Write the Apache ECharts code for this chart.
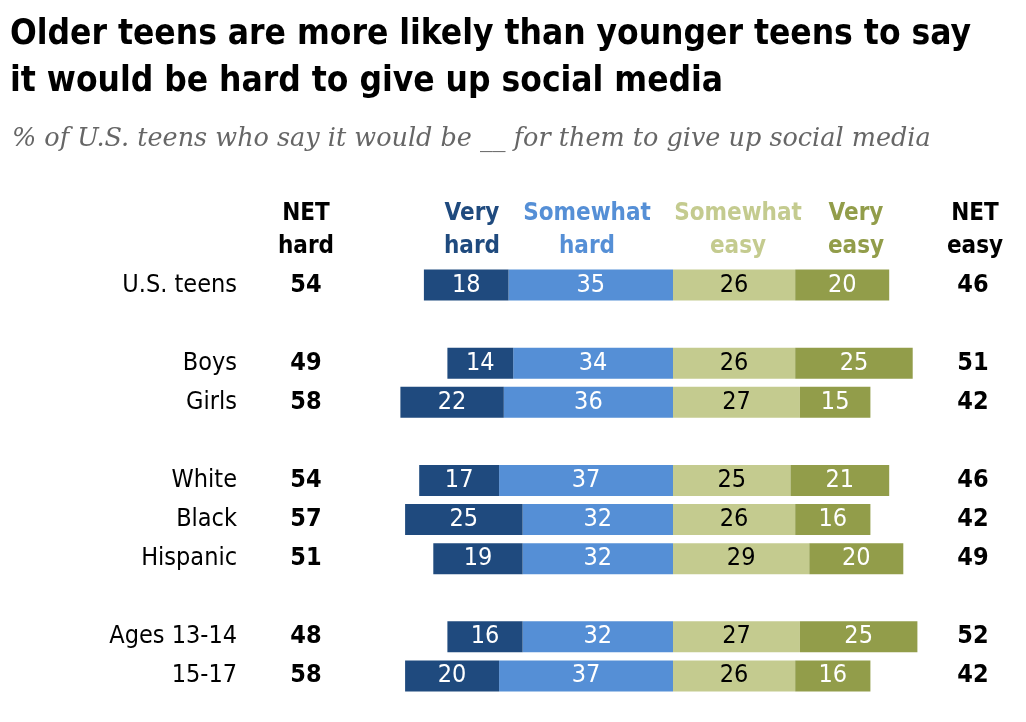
<!DOCTYPE html>
<html lang="en">
<head>
    <meta charset="UTF-8">
    <title>Teens and giving up social media</title>
    <script src="https://cdn.jsdelivr.net/npm/echarts@6.0.0/dist/echarts.min.js"></script>
    <style>
        html, body { margin: 0; padding: 0; background: #fff; }
        #chart { width: 1026px; height: 722px; }
    </style>
</head>
<body>
    <div id="chart"></div>
    <script>
        // rows, with blank slots between the groups
        const groups = ['U.S. teens', '', 'Boys', 'Girls', '', 'White', 'Black', 'Hispanic', '', 'Ages 13-14', '15-17'];
        const veryHard =     [18, null, 14, 22, null, 17, 25, 19, null, 16, 20];
        const somewhatHard = [35, null, 34, 36, null, 37, 32, 32, null, 32, 37];
        const somewhatEasy = [26, null, 26, 27, null, 25, 26, 29, null, 27, 26];
        const veryEasy =     [20, null, 25, 15, null, 21, 16, 20, null, 25, 16];
        const netHard = ['54', '', '49', '58', '', '54', '57', '51', '', '48', '58'];
        const netEasy = ['46', '', '51', '42', '', '46', '42', '49', '', '52', '42'];

        const narrow = "'Liberation Sans Narrow', 'Arial Narrow', 'DejaVu Sans Condensed', sans-serif";
        const colors = {
            veryHard: '#1f4a7e',
            somewhatHard: '#558fd6',
            somewhatEasy: '#c4cb8f',
            veryEasy: '#929d4a'
        };

        const chart = echarts.init(document.getElementById('chart'));

        function barSeries(name, values, color, textColor, sign) {
            return {
                name: name,
                type: 'bar',
                stack: 'total',
                barWidth: 31,
                yAxisIndex: 0,
                data: values.map(v => v == null ? null : sign * v),
                itemStyle: { color: color },
                label: {
                    show: true,
                    position: 'inside',
                    color: textColor,
                    fontFamily: narrow,
                    fontSize: 25,
                    formatter: p => Math.abs(p.value)
                },
                emphasis: { disabled: true }
            };
        }

        function header(text, x, color) {
            return {
                type: 'text',
                x: x,
                y: 197,
                style: {
                    text: text,
                    textAlign: 'center',
                    fill: color,
                    font: 'bold 24px ' + narrow,
                    lineHeight: 33
                }
            };
        }

        chart.setOption({
            animation: false,
            title: [{
                text: 'Older teens are more likely than younger teens to say\nit would be hard to give up social media',
                left: 5,
                top: 6,
                textStyle: {
                    fontFamily: narrow,
                    fontWeight: 'bold',
                    fontSize: 35,
                    lineHeight: 47,
                    color: '#000'
                }
            }, {
                text: '% of U.S. teens who say it would be __ for them to give up social media',
                left: 7,
                top: 121,
                textStyle: {
                    fontFamily: "'DejaVu Serif', 'Liberation Serif', serif",
                    fontStyle: 'italic',
                    fontWeight: 'normal',
                    fontSize: 25.5,
                    color: '#666'
                }
            }],
            graphic: [
                header('NET\nhard', 306, '#000'),
                header('Very\nhard', 472, colors.veryHard),
                header('Somewhat\nhard', 587, colors.somewhatHard),
                header('Somewhat\neasy', 738, colors.somewhatEasy),
                header('Very\neasy', 856, colors.veryEasy),
                header('NET\neasy', 975, '#000')
            ],
            grid: {
                left: 391,
                width: 564,
                top: 265.5,
                height: 430,
                containLabel: false
            },
            xAxis: {
                type: 'value',
                min: -60,
                max: 60,
                show: false
            },
            yAxis: [{
                type: 'category',
                data: groups,
                inverse: true,
                position: 'left',
                axisLine: { show: false },
                axisTick: { show: false },
                axisLabel: {
                    margin: 154,
                    color: '#000',
                    fontFamily: narrow,
                    fontSize: 25
                }
            }, {
                type: 'category',
                data: netHard,
                inverse: true,
                position: 'left',
                axisLine: { show: false },
                axisTick: { show: false },
                axisLabel: {
                    margin: 85,
                    align: 'center',
                    color: '#000',
                    fontFamily: narrow,
                    fontWeight: 'bold',
                    fontSize: 25
                }
            }, {
                type: 'category',
                data: netEasy,
                inverse: true,
                position: 'right',
                axisLine: { show: false },
                axisTick: { show: false },
                axisLabel: {
                    margin: 18,
                    align: 'center',
                    color: '#000',
                    fontFamily: narrow,
                    fontWeight: 'bold',
                    fontSize: 25
                }
            }],
            series: [
                barSeries('Somewhat hard', somewhatHard, colors.somewhatHard, '#fff', -1),
                barSeries('Very hard', veryHard, colors.veryHard, '#fff', -1),
                barSeries('Somewhat easy', somewhatEasy, colors.somewhatEasy, '#000', 1),
                barSeries('Very easy', veryEasy, colors.veryEasy, '#fff', 1)
            ]
        });
    </script>
</body>
</html>
